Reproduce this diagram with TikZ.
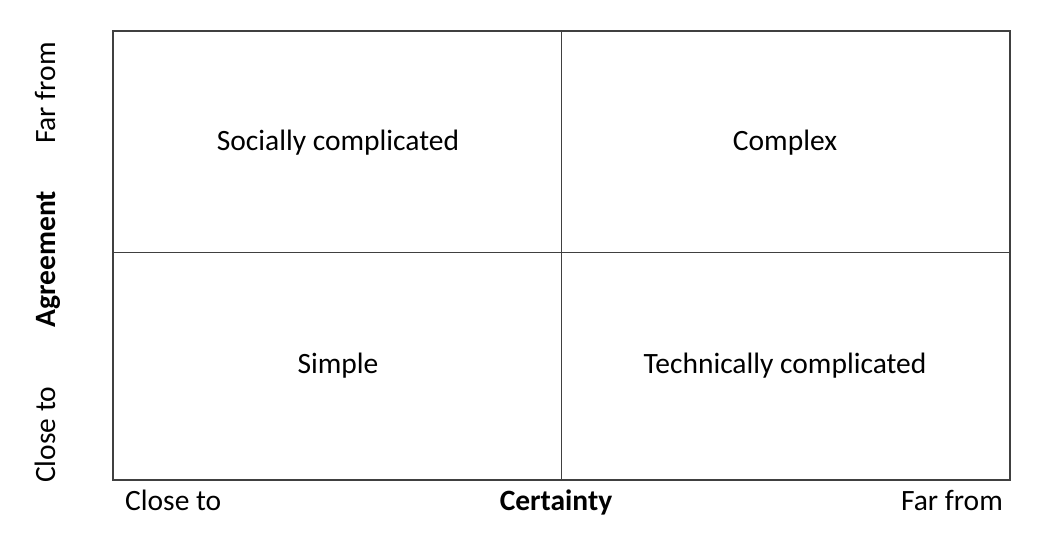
\documentclass[tikz,border=0pt]{standalone}
\usepackage{fontspec}
\setmainfont{Carlito}
\usetikzlibrary{positioning}

\tikzset{
  quadlabel/.style={font=\fontsize{29.5}{34}\selectfont, inner sep=0pt, anchor=base},
  axislabel/.style={font=\fontsize{29.5}{34}\selectfont, inner sep=0pt},
  axistitle/.style={font=\fontsize{29.5}{34}\selectfont\bfseries, inner sep=0pt},
  gridline/.style={line width=1pt, draw=black!75},
}

\begin{document}
\begin{tikzpicture}[x=1pt,y=-1pt]
\useasboundingbox (0,0) rectangle (1059,533);
\coordinate (tl) at (113,31);
\coordinate (br) at (1010,480);
\coordinate (mt) at (561,31);
\coordinate (mb) at (561,480);
\coordinate (ml) at (113,252);
\coordinate (mr) at (1010,252);
\draw[gridline,line width=1.5pt] (tl) rectangle (br);
\draw[gridline] (mt) -- (mb);
\draw[gridline] (ml) -- (mr);
% quadrants
\node[quadlabel] (soc) at (338,150) {Socially complicated};
\node[quadlabel] (cpx) at (785,150) {Complex};
\node[quadlabel] (sim) at (338,373) {Simple};
\node[quadlabel] (tec) at (785,373) {Technically complicated};
% axes
\node[axislabel,anchor=base west] (xclose) at (125,510) {Close to};
\node[axistitle,anchor=base] (xtitle) at (556,510) {Certainty};
\node[axislabel,anchor=base east] (xfar) at (1003,510) {Far from};
\node[axislabel,rotate=90,anchor=base east] (yfar) at (55,42) {Far from};
\node[axistitle,rotate=90,anchor=base] (ytitle) at (55,259) {Agreement};
\node[axislabel,rotate=90,anchor=base west] (yclose) at (55,483) {Close to};
\end{tikzpicture}
\end{document}
